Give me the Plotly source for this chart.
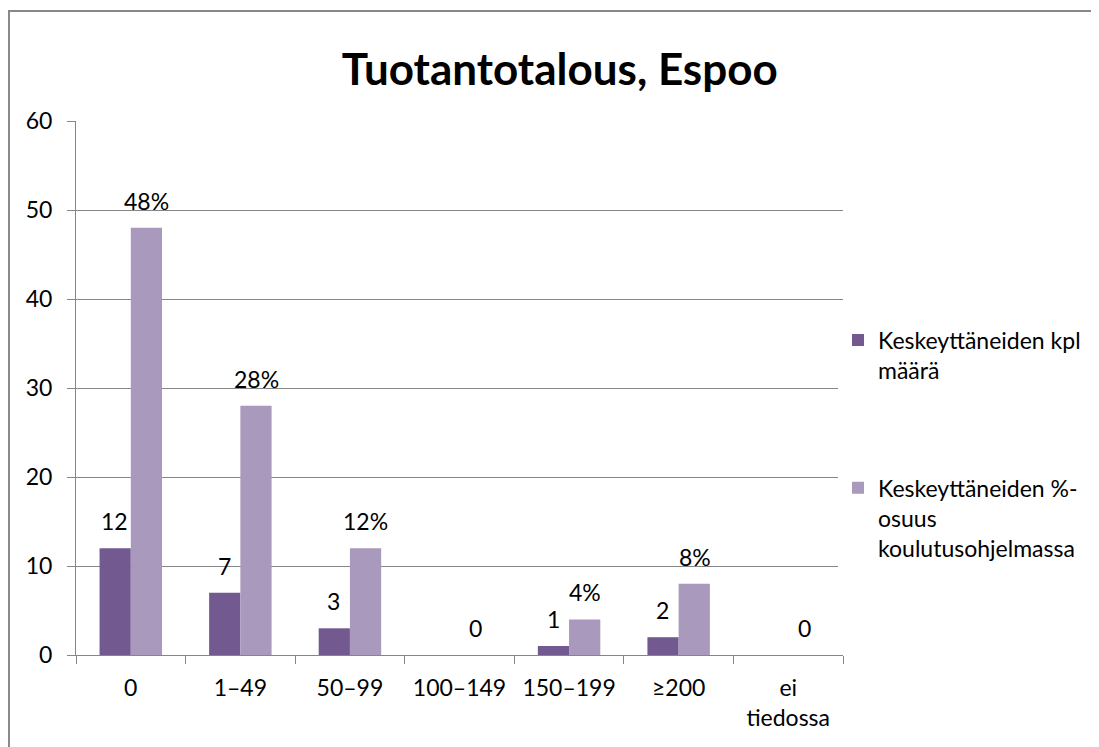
import plotly.graph_objects as pg

categories = ["0", "1–49", "50–99", "100–149", "150–199", "≥200", "ei<br>tiedossa"]
kpl = [12, 7, 3, 0, 1, 2, 0]
osuus = [48, 28, 12, 0, 4, 8, 0]
kpl_labels = ["12", "7", "3", "", "1", "2", ""]
osuus_labels = ["48%", "28%", "12%", "0", "4%", "8%", "0"]

dark = "#725990"
light = "#A899BD"
grid = "#868686"
font = "Lato, Open Sans, sans-serif"

fig = pg.Figure()
fig.add_trace(pg.Bar(x=categories, y=kpl, name="Keskeyttäneiden kpl<br>määrä",
                     marker=dict(color=dark, line=dict(width=0)), legendgroup="a"))
fig.add_trace(pg.Bar(x=categories, y=osuus, name="Keskeyttäneiden %-<br>osuus<br>koulutusohjelmassa",
                     marker=dict(color=light, line=dict(width=0)), legendgroup="b"))

# data labels above bars
for i, c in enumerate(categories):
    for val, lab, dx in [(kpl[i], kpl_labels[i], -16), (osuus[i], osuus_labels[i], 16)]:
        if lab:
            fig.add_annotation(x=c, y=val, text=lab, showarrow=False, xshift=dx, yshift=27,
                               yanchor="middle", font=dict(size=23, color="#000", family=font))

# outer chart border
fig.add_shape(type="rect", xref="paper", yref="paper", x0=-0.0874, x1=1.5, y0=-0.5, y1=1.206,
              line=dict(color="#888888", width=2), fillcolor="rgba(0,0,0,0)")

fig.update_layout(
    width=1099, height=747,
    margin=dict(l=68, r=264, t=113, b=100),
    paper_bgcolor="white", plot_bgcolor="white",
    font=dict(family=font, size=23, color="#000"),
    title=dict(text="<b>Tuotantotalous, Espoo</b>", x=0.502, xanchor="center",
               y=0.918, yanchor="middle", font=dict(size=44, color="#000", family=font)),
    barmode="group", bargap=0.43, bargroupgap=0,
    showlegend=True,
    legend=dict(x=0.9935, xanchor="left", y=0.63, yanchor="top", valign="top",
                tracegroupgap=85, traceorder="grouped", font=dict(size=23, family=font)),
    xaxis=dict(showline=True, linecolor=grid, linewidth=1, ticks="outside", tickson="boundaries",
               ticklen=8, tickcolor=grid, showgrid=False, tickfont=dict(size=23),
               ticklabelstandoff=12),
    yaxis=dict(range=[0, 60], dtick=10, showline=True, linecolor=grid, linewidth=1,
               gridcolor=grid, gridwidth=1, ticks="outside", ticklen=8, tickcolor=grid,
               zeroline=False, tickfont=dict(size=23), ticklabelstandoff=10),
)

fig.write_html("out.html")
